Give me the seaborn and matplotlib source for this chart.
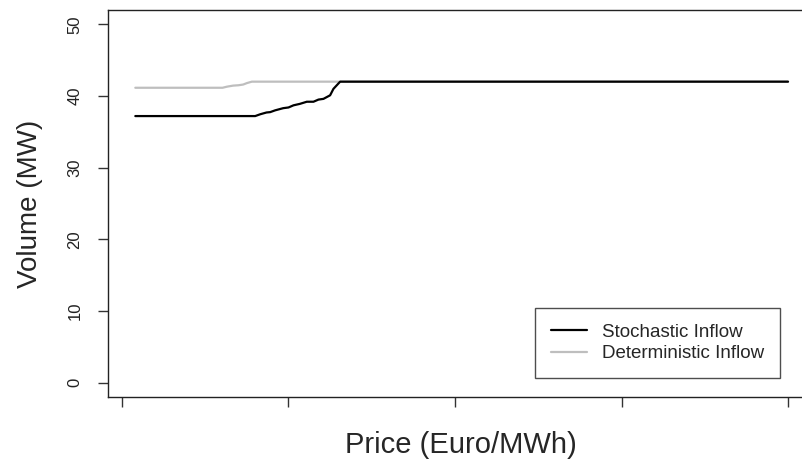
import numpy as np
import pandas as pd
import matplotlib
matplotlib.use("Agg")
import matplotlib.pyplot as plt
import seaborn as sns
from matplotlib.lines import Line2D

# offer curves
price_sto = [4, 40, 41.5, 43.4, 44.5, 46, 48.4, 50, 51.5, 53.4, 55.5, 57.5, 59, 60.5, 62.5, 63.5, 65.5, 200]
vol_sto = [37.2, 37.2, 37.45, 37.7, 37.75, 38.0, 38.3, 38.4, 38.7, 38.9, 39.2, 39.2, 39.5, 39.6, 40.1, 41.0, 42.0, 42.0]
price_det = [4, 30.2, 31.5, 33.4, 35, 36.4, 37.5, 39, 200]
vol_det = [41.15, 41.15, 41.3, 41.45, 41.5, 41.6, 41.8, 42.0, 42.0]
series = ["Stochastic Inflow", "Deterministic Inflow"]
colors = ["black", "#BEBEBE"]
xticks = [0, 50, 100, 150, 200]
yticks = [0, 10, 20, 30, 40, 50]

d1 = pd.DataFrame({"price": price_sto, "volume": vol_sto, "series": series[0]})
d2 = pd.DataFrame({"price": price_det, "volume": vol_det, "series": series[1]})
data = pd.concat([d2, d1], ignore_index=True)

sns.set_style("ticks")
plt.rcParams["font.family"] = ["Liberation Sans", "DejaVu Sans"]

fig = plt.figure(figsize=(8.03, 4.62), dpi=100)
ax = fig.add_axes([108 / 803, 1 - 397 / 462, 706 / 803, 387 / 462])

sns.lineplot(data=data, x="price", y="volume", hue="series",
             hue_order=[series[1], series[0]],
             palette={series[0]: colors[0], series[1]: colors[1]},
             linewidth=1.6, ax=ax, legend=False, estimator=None, sort=False)

ax.set_xlim(-4.2, 207.8)
ax.set_ylim(-2, 52)
ax.set_xticks(xticks)
ax.set_xticklabels([])
ax.set_yticks(yticks)
ax.set_yticklabels([str(v) for v in yticks], rotation=90, va="center", fontsize=12, color="#222222")
ax.tick_params(direction="out", length=7.5, width=1, color="#333333")
ax.tick_params(axis="y", pad=11)
for s in ax.spines.values():
    s.set_visible(True)
    s.set_color("#222222")
    s.set_linewidth(1)

ax.set_xlabel("Price (Euro/MWh)", fontsize=21, va="center")
ax.xaxis.set_label_coords(0.5, -0.124)
ax.set_ylabel("Volume (MW)", fontsize=20, va="center")
ax.yaxis.set_label_coords(-0.11, 0.5)

handles = [Line2D([], [], color=c, lw=1.6) for c in colors]
leg = ax.legend(handles, series, loc="lower right", bbox_to_anchor=(0.952, 0.049),
                fontsize=13.5, frameon=True, fancybox=False, handlelength=1.92,
                handletextpad=0.8, borderpad=0.85, labelspacing=0.22,
                borderaxespad=0)
leg.get_frame().set_edgecolor("#222222")
leg.get_frame().set_linewidth(1)

fig.savefig("out.png", dpi=100)
